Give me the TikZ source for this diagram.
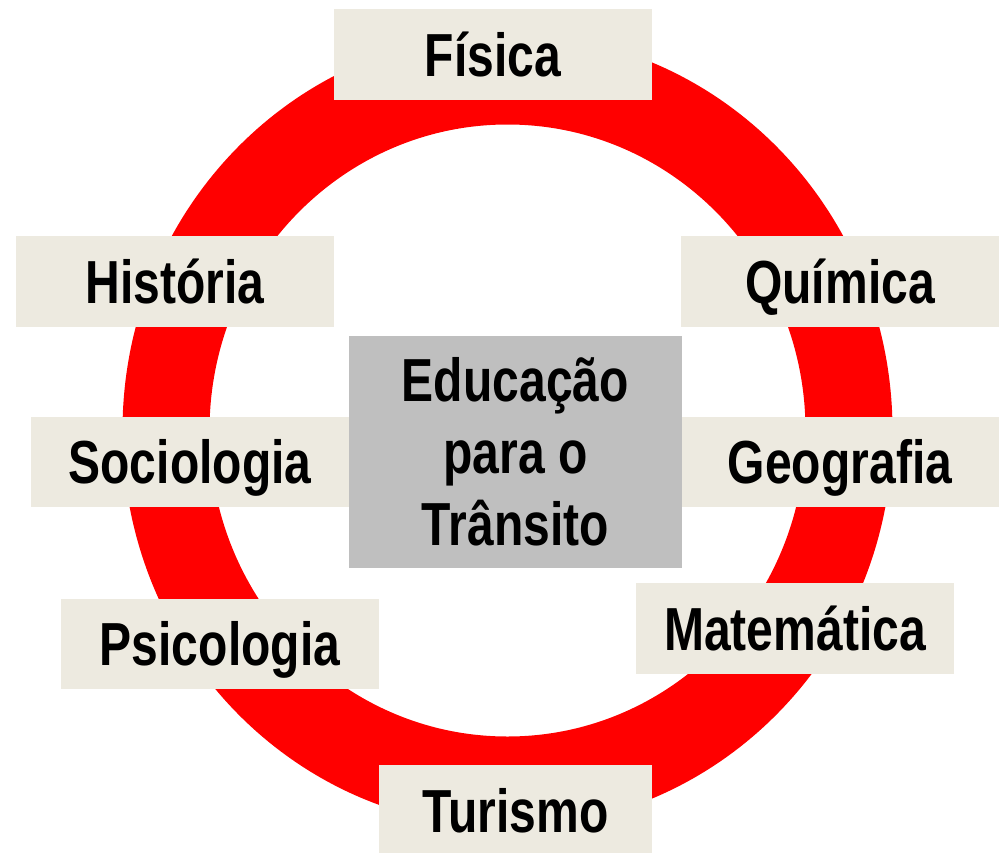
\documentclass[tikz,border=0pt]{standalone}
\usepackage{fontspec}
\newfontfamily\discfont[FakeStretch=0.79]{Liberation Sans}
\definecolor{discbg}{RGB}{237,234,224}
\definecolor{centrebg}{RGB}{191,191,191}

\begin{document}
\begin{tikzpicture}[x=0.75pt, y=-0.75pt,
    disc/.style={fill=discbg, minimum width=238.5pt, minimum height=68pt, inner sep=0pt,
        font=\discfont\bfseries\fontsize{45.6pt}{53.9pt}\selectfont,
        text height=32.6pt, text depth=0pt},
    centre/.style={fill=centrebg, minimum width=249.5pt, minimum height=174.2pt, inner sep=0pt,
        align=center, font=\discfont\bfseries\fontsize{45.6pt}{53.9pt}\selectfont}]
        \useasboundingbox (0, 0) rectangle (1003, 853);
        \fill[red, even odd rule] (507.5, 430.5) ellipse [x radius=288.75pt, y radius=297.75pt]
        (507.5, 430.5) ellipse [x radius=223.5pt, y radius=229.5pt];

        \node[disc] (fisica) at (493, 54.5) {Física};
        \node[disc] (historia) at (175, 281.5) {História};
        \node[disc] (quimica) at (840, 281.5) {Química};
        \node[disc] (sociologia) at (190, 462) {Sociologia};
        \node[disc] (geografia) at (840, 462) {Geografia};
        \node[disc] (psicologia) at (220, 644) {Psicologia};
        \node[disc] (matematica) at (795, 628.5) {Matemática};
        \node[disc, minimum width=204.75pt, minimum height=69pt] (turismo) at (515.5, 811) {Turismo};

        \node[centre] (educacao) at (515.4, 452) {Educação\\para o\\Trânsito};
\end{tikzpicture}
\end{document}
